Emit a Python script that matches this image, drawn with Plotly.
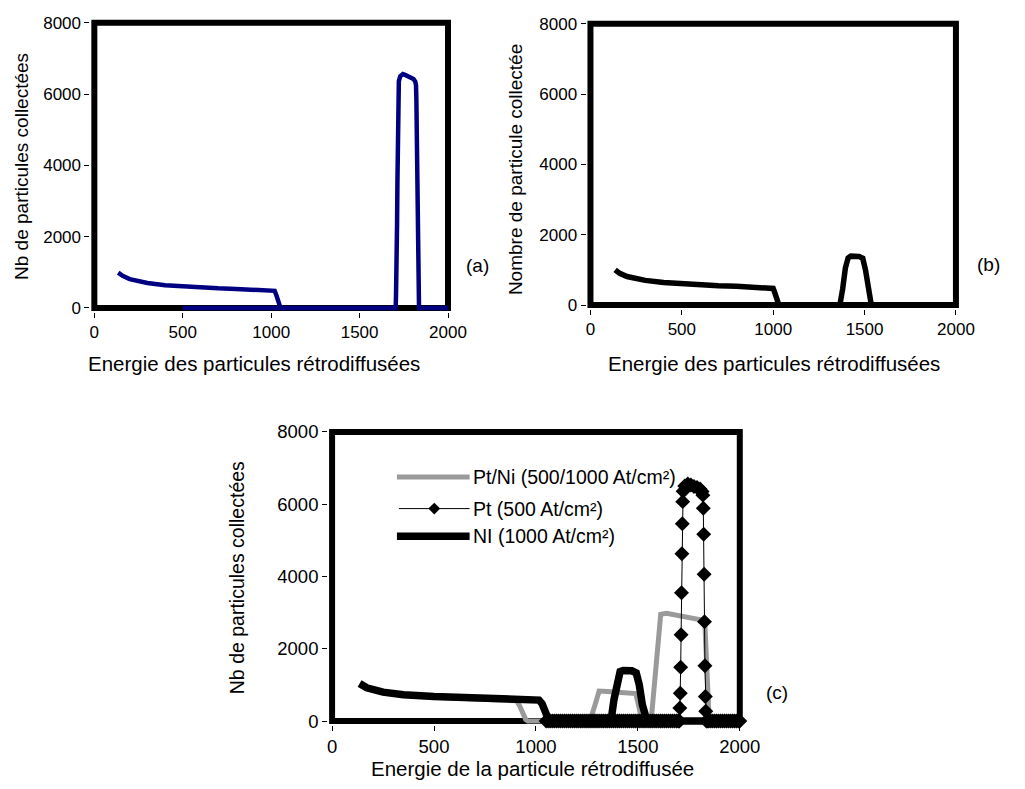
import plotly.graph_objects as go

W, H = 1025, 789

# ---------------- data ----------------
# (a) low-energy part of the spectrum
a_low_energy = [135, 160, 200, 250, 300, 400, 500, 600, 700, 800, 900, 1000, 1020, 1030, 1040, 1050, 1065]
a_low_counts = [990, 900, 810, 750, 700, 640, 600, 570, 550, 535, 520, 510, 480, 350, 150, 40, 0]

# Pt peak (shared by (a) and (c))
pt_energy = [1704, 1706, 1708, 1710, 1712, 1714, 1716, 1718, 1720, 1722, 1730, 1745, 1760, 1775,
             1790, 1805, 1815, 1819, 1821, 1823, 1825, 1827, 1829, 1831, 1833, 1836, 1840]
pt_counts = [0, 360, 770, 1490, 2390, 3550, 4630, 5460, 6070, 6360, 6500, 6560, 6530, 6490,
             6460, 6420, 6350, 6250, 5890, 5170, 4060, 2750, 1530, 680, 270, 0, 0]

# (a) Pt series zero baseline limits
a_pt_start = [500]
a_pt_end = [2000]

# (b) Ni spectrum
b_energy = [135, 160, 200, 250, 300, 400, 500, 600, 700, 800, 900, 990, 1000, 1010, 1020, 1030, 1040,
            1365, 1380, 1395, 1410, 1425, 1470, 1490, 1505, 1520, 1535, 1545, 2000]
b_counts = [1000, 900, 810, 750, 700, 640, 600, 570, 550, 535, 520, 505, 470, 330, 130, 20, 0,
            0, 450, 1050, 1340, 1390, 1380, 1330, 1000, 450, 60, 0, 0]

# (c) Pt/Ni
c_ptni_energy = [135, 170, 250, 350, 500, 700, 890, 905, 920, 935, 950, 960, 1265, 1290, 1310, 1350,
                 1420, 1490, 1505, 1520, 1565, 1590, 1612, 1640, 1740, 1828, 1838, 1850, 2000]
c_ptni_counts = [1000, 900, 780, 710, 660, 620, 590, 560, 420, 200, 40, 0, 0, 450, 830, 820,
                 790, 760, 400, 0, 0, 1600, 2950, 2980, 2880, 2780, 1500, 0, 0]

# (c) Pt : zero channels drawn with markers
pt_zero_low_energy = [1050, 1060, 1070, 1080, 1090, 1100, 1110, 1120, 1130, 1140, 1150, 1160, 1170,
                      1180, 1190, 1200, 1210, 1220, 1230, 1240, 1250, 1260, 1270, 1280, 1290, 1300,
                      1310, 1320, 1330, 1340, 1350, 1360, 1370, 1380, 1390, 1400, 1410, 1420, 1430,
                      1440, 1450, 1460, 1470, 1480, 1490, 1500, 1510, 1520, 1530, 1540, 1550, 1560,
                      1570, 1580, 1590, 1600, 1610, 1620, 1630, 1640, 1650, 1660, 1670, 1680, 1690,
                      1698]
pt_zero_high_energy = [1846, 1855, 1865, 1875, 1885, 1895, 1905, 1915, 1925, 1935, 1945, 1955, 1965,
                       1975, 1985, 1995, 2000]

# (c) Ni
c_ni_energy = [135, 170, 250, 350, 500, 700, 900, 1000, 1015, 1030, 1045, 1060, 1075,
               1368, 1383, 1398, 1413, 1428, 1470, 1492, 1507, 1522, 1535, 1545, 2000]
c_ni_counts = [1040, 920, 800, 730, 680, 640, 610, 600, 580, 480, 250, 60, 0,
               0, 600, 1150, 1370, 1400, 1390, 1330, 1000, 450, 60, 0, 0]

x_ticks = [0, 500, 1000, 1500, 2000]
y_ticks = [0, 2000, 4000, 6000, 8000]
x_max, y_max = 2000, 8000

legend_names = ["Pt/Ni (500/1000 At/cm²)", "Pt (500 At/cm²)", "NI (1000 At/cm²)"]

FONT = "Liberation Sans, Arial, Helvetica, sans-serif"
NAVY = "#000080"
GRAY = "#9a9a9a"

fig = go.Figure()

# (a)
fig.add_trace(go.Scatter(x=a_low_energy, y=a_low_counts, mode="lines",
                         line=dict(color=NAVY, width=4.5), xaxis="x", yaxis="y", showlegend=False))
fig.add_trace(go.Scatter(x=a_pt_start + pt_energy + a_pt_end, y=[0] + pt_counts + [0], mode="lines",
                         line=dict(color=NAVY, width=4.5), xaxis="x", yaxis="y", showlegend=False))
# (b)
fig.add_trace(go.Scatter(x=b_energy, y=b_counts, mode="lines",
                         line=dict(color="black", width=5.5), xaxis="x2", yaxis="y2", showlegend=False))
# (c)
fig.add_trace(go.Scatter(x=c_ptni_energy, y=c_ptni_counts, mode="lines", name=legend_names[0],
                         line=dict(color=GRAY, width=5), xaxis="x3", yaxis="y3", showlegend=False))
c_pt_x = pt_zero_low_energy + pt_energy + pt_zero_high_energy
c_pt_y = [0] * len(pt_zero_low_energy) + pt_counts + [0] * len(pt_zero_high_energy)
fig.add_trace(go.Scatter(x=c_pt_x, y=c_pt_y, mode="lines+markers", name=legend_names[1],
                         line=dict(color="black", width=1),
                         marker=dict(symbol="diamond", size=11.5, color="black"),
                         cliponaxis=False, xaxis="x3", yaxis="y3", showlegend=False))
fig.add_trace(go.Scatter(x=c_ni_energy, y=c_ni_counts, mode="lines", name=legend_names[2],
                         line=dict(color="black", width=7.5), xaxis="x3", yaxis="y3", showlegend=False))

PAD = 4


def place(x0, x1, y0, y1):
    sx = (x1 - x0) / x_max
    sy = (y0 - y1) / y_max
    xr = [-PAD / sx, x_max + PAD / sx]
    yr = [-PAD / sy, y_max + PAD / sy]
    xd = [(x0 - PAD) / W, (x1 + PAD) / W]
    yd = [1 - (y0 + PAD) / H, 1 - (y1 - PAD) / H]
    return xr, yr, xd, yd


def axes(xr, yr, xd, yd, tsize, anchor_x, anchor_y):
    common = dict(showgrid=False, zeroline=False, showline=False, ticks="outside", ticklen=5,
                  tickwidth=1, tickcolor="black", tickfont=dict(family=FONT, size=tsize, color="black"),
                  fixedrange=True)
    xa = dict(range=xr, domain=xd, tickvals=x_ticks, anchor=anchor_y, **common)
    ya = dict(range=yr, domain=yd, tickvals=y_ticks, anchor=anchor_x, **common)
    return xa, ya


pa = place(95, 455, 306, 16)
pb = place(600, 972, 303, 17)
pc = place(337, 752, 726, 432)

xa1, ya1 = axes(*pa, 17, "x", "y")
xa2, ya2 = axes(*pb, 17, "x2", "y2")
xa3, ya3 = axes(*pc, 18.5, "x3", "y3")

shapes = []
for xr_, yr_ in (("x", "y"), ("x2", "y2"), ("x3", "y3")):
    shapes.append(dict(type="rect", xref=xr_, yref=yr_, x0=0, x1=x_max, y0=0, y1=y_max,
                       line=dict(color="black", width=6), fillcolor="rgba(0,0,0,0)", layer="below"))


def px(x):
    return x / W


def py(y):
    return 1 - y / H


# manual legend in (c)
leg_rows = [478, 510, 538]
shapes.append(dict(type="line", xref="paper", yref="paper", x0=px(403), x1=px(477),
                   y0=py(leg_rows[0]), y1=py(leg_rows[0]), line=dict(color=GRAY, width=5)))
shapes.append(dict(type="line", xref="paper", yref="paper", x0=px(405), x1=px(477),
                   y0=py(leg_rows[1]), y1=py(leg_rows[1]), line=dict(color="black", width=1)))
dc, dy, dr = 441, leg_rows[1], 6
shapes.append(dict(type="path", xref="paper", yref="paper",
                   path=f"M {px(dc - dr)} {py(dy)} L {px(dc)} {py(dy - dr)} L {px(dc + dr)} {py(dy)} L {px(dc)} {py(dy + dr)} Z",
                   fillcolor="black", line=dict(color="black", width=0)))
shapes.append(dict(type="line", xref="paper", yref="paper", x0=px(403), x1=px(477),
                   y0=py(leg_rows[2]), y1=py(leg_rows[2]), line=dict(color="black", width=7.5)))

annotations = []


def ann(text, x, y, size, angle=0, xanchor="center"):
    annotations.append(dict(text=text, x=px(x), y=py(y), xref="paper", yref="paper",
                            showarrow=False, textangle=angle, xanchor=xanchor, yanchor="middle",
                            font=dict(family=FONT, size=size, color="black")))


for name, row in zip(legend_names, leg_rows):
    ann(name, 478, row, 19.5, xanchor="left")

ann("Energie des particules rétrodiffusées", 258, 362, 20.5)
ann("Nb de particules collectées", 21, 162, 19, angle=-90)
ann("Energie des particules rétrodiffusées", 787, 362, 20.5)
ann("Nombre de particule collectée", 523, 165, 19, angle=-90)
ann("Energie de la particule rétrodiffusée", 541, 774, 20.5)
ann("Nb de particules collectées", 241, 580, 19.5, angle=-90)
ann("(a)", 485, 263, 19)
ann("(b)", 1005, 262, 19)
ann("(c)", 790, 697, 19)

fig.update_layout(
    width=W, height=H, autosize=False,
    margin=dict(l=0, r=0, t=0, b=0),
    paper_bgcolor="white", plot_bgcolor="white",
    xaxis=xa1, yaxis=ya1, xaxis2=xa2, yaxis2=ya2, xaxis3=xa3, yaxis3=ya3,
    shapes=shapes, annotations=annotations, showlegend=False,
    font=dict(family=FONT, color="black"),
)

fig.write_html("out.html", config=dict(displayModeBar=False),
               post_script="document.body.style.margin='0px';document.body.style.overflow='hidden';")
